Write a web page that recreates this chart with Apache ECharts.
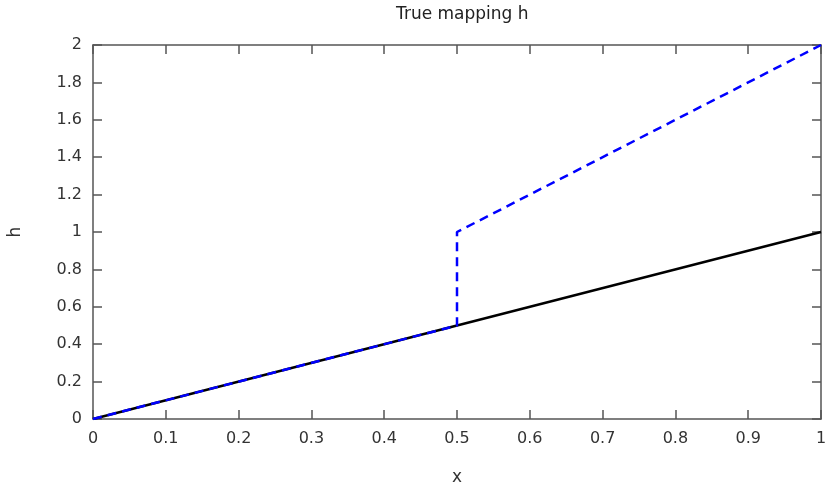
<!DOCTYPE html>
<html><head><meta charset="utf-8">
<script src="https://cdn.jsdelivr.net/npm/echarts@6/dist/echarts.min.js"></script>
<style>html,body{margin:0;padding:0;background:#fff}#c{width:828px;height:489px}</style>
</head><body><div id="c"></div>
<script>
const xTicks = [0,0.1,0.2,0.3,0.4,0.5,0.6,0.7,0.8,0.9,1];
const yTicks = [0,0.2,0.4,0.6,0.8,1,1.2,1.4,1.6,1.8,2];
const trueX = [0, 1];
const trueH = [0, 1];
const estX = [0, 0.5, 0.5, 1];
const estH = [0, 0.5, 1, 2];

const chart = echarts.init(document.getElementById('c'));
const axCol = '#555';
const lblStyle = {color:'#333', fontSize:16, fontFamily:'DejaVu Sans'};
function axisBase(show, margin){
  return {
    axisLine:{show:true, onZero:false, lineStyle:{color:axCol, width:1.5}},
    axisTick:{show:true, inside:true, length:9, lineStyle:{color:axCol, width:1.5}},
    splitLine:{show:false},
    axisLabel: show ? Object.assign({margin:margin}, lblStyle) : {show:false}
  };
}
chart.setOption({
  animation:false,
  backgroundColor:'#fff',
  title:{text:'True mapping h', left:391, top:1, textStyle:{fontSize:17, fontWeight:'normal', color:'#222', fontFamily:'DejaVu Sans'}},
  grid:{left:93, right:7, top:45, bottom:70, containLabel:false, outerBoundsMode:'none'},
  xAxis:[
    Object.assign({type:'value', min:0, max:1, interval:0.1, position:'bottom',
      name:'x', nameLocation:'middle', nameGap:50, nameTextStyle:{fontSize:17, color:'#333', fontFamily:'DejaVu Sans'}}, axisBase(true, 12)),
    Object.assign({type:'value', min:0, max:1, interval:0.1, position:'top'}, axisBase(false))
  ],
  yAxis:[
    Object.assign({type:'value', min:0, max:2, interval:0.2, position:'left',
      name:'h', nameLocation:'middle', nameGap:69, nameRotate:90, nameTextStyle:{fontSize:17, color:'#333', fontFamily:'DejaVu Sans'}}, axisBase(true, 11)),
    Object.assign({type:'value', min:0, max:2, interval:0.2, position:'right'}, axisBase(false))
  ],
  series:[
    {type:'line', data:trueX.map((x,i)=>[x,trueH[i]]), showSymbol:false, symbol:'none',
     lineStyle:{color:'#000', width:2.5}, z:2},
    {type:'line', data:estX.map((x,i)=>[x,estH[i]]), showSymbol:false, symbol:'none',
     lineStyle:{color:'#0000ff', width:2.5, type:[9,6]}, z:3}
  ]
});
</script></body></html>
